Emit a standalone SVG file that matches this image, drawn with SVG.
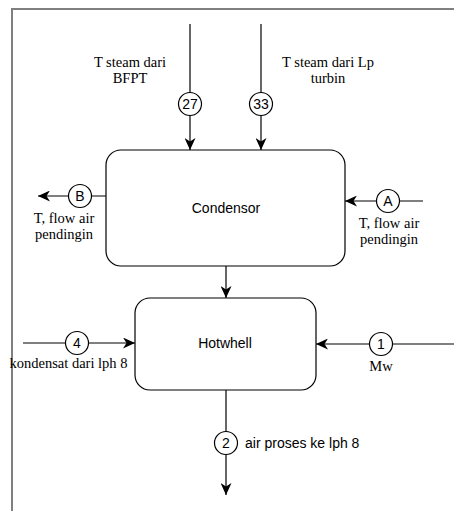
<svg xmlns="http://www.w3.org/2000/svg" width="454" height="511" viewBox="0 0 454 511">
<style>
.box{fill:#fff;stroke:#000;stroke-width:1.2}
.ln{fill:none;stroke:#000;stroke-width:1.2}
.cir{fill:#fff;stroke:#000;stroke-width:1.2}
.sans{font-family:"Liberation Sans",Arial,sans-serif;font-size:14px;fill:#000}
.serif{font-family:"Liberation Serif","Times New Roman",serif;font-size:14.5px;fill:#000}
.num{font-family:"Liberation Sans",Arial,sans-serif;font-size:14px;fill:#000;text-anchor:middle}
</style>
<defs>
<marker id="arr" markerUnits="userSpaceOnUse" markerWidth="13" markerHeight="11" refX="12" refY="5.5" orient="auto">
<path d="M0,0 L12,5.5 L0,11 L3.5,5.5 z" fill="#000"/>
</marker>
</defs>
<rect width="454" height="511" fill="#fff"/>
<path d="M12,511 V9 H454" fill="none" stroke="#808080" stroke-width="2"/>
<g id="condensor">
<rect class="box" x="106" y="150" width="239" height="116" rx="15" ry="15"/>
<text class="sans" x="226" y="213" text-anchor="middle">Condensor</text>
</g>
<g id="hotwell">
<rect class="box" x="135" y="298" width="181" height="92" rx="15" ry="15"/>
<text class="sans" x="225" y="348" text-anchor="middle">Hotwhell</text>
</g>
<g id="connectors">
<g id="s27">
<line class="ln" x1="190" y1="24" x2="190" y2="150" marker-end="url(#arr)"/>
<circle class="cir" cx="190" cy="104" r="11.5"/>
<text class="num" x="190" y="109">27</text>
<text class="serif" x="130" y="66.5" text-anchor="middle">T steam dari</text>
<text class="serif" x="130" y="82.5" text-anchor="middle">BFPT</text>
</g>
<g id="s33">
<line class="ln" x1="261" y1="24" x2="261" y2="150" marker-end="url(#arr)"/>
<circle class="cir" cx="261" cy="104" r="11.5"/>
<text class="num" x="261" y="109">33</text>
<text class="serif" x="328" y="66.5" text-anchor="middle">T steam dari Lp</text>
<text class="serif" x="328" y="82.5" text-anchor="middle">turbin</text>
</g>
<g id="sB">
<line class="ln" x1="106" y1="196" x2="38" y2="196" marker-end="url(#arr)"/>
<circle class="cir" cx="80" cy="196" r="11.5"/>
<text class="num" x="80" y="201">B</text>
<text class="serif" x="64" y="222.5" text-anchor="middle">T, flow air</text>
<text class="serif" x="64" y="239" text-anchor="middle">pendingin</text>
</g>
<g id="sA">
<line class="ln" x1="423" y1="201" x2="345" y2="201" marker-end="url(#arr)"/>
<circle class="cir" cx="388" cy="201" r="11.5"/>
<text class="num" x="388" y="206">A</text>
<text class="serif" x="389" y="227.5" text-anchor="middle">T, flow air</text>
<text class="serif" x="389" y="244" text-anchor="middle">pendingin</text>
</g>
<g id="sCH">
<line class="ln" x1="226" y1="266" x2="226" y2="298" marker-end="url(#arr)"/>
</g>
<g id="s4">
<line class="ln" x1="23" y1="343" x2="135" y2="343" marker-end="url(#arr)"/>
<circle class="cir" cx="77" cy="343" r="11.5"/>
<text class="num" x="77" y="348">4</text>
<text class="serif" x="68.5" y="368" text-anchor="middle">kondensat dari lph 8</text>
</g>
<g id="s1">
<line class="ln" x1="454" y1="344" x2="316" y2="344" marker-end="url(#arr)"/>
<circle class="cir" cx="381" cy="344" r="11.5"/>
<text class="num" x="381" y="349">1</text>
<text class="serif" x="381" y="371" text-anchor="middle">Mw</text>
</g>
<g id="s2">
<line class="ln" x1="226" y1="390" x2="226" y2="495" marker-end="url(#arr)"/>
<circle class="cir" cx="226" cy="443" r="11.5"/>
<text class="num" x="226" y="448">2</text>
<text class="sans" x="245" y="448">air proses ke lph 8</text>
</g>
</g>
</svg>
